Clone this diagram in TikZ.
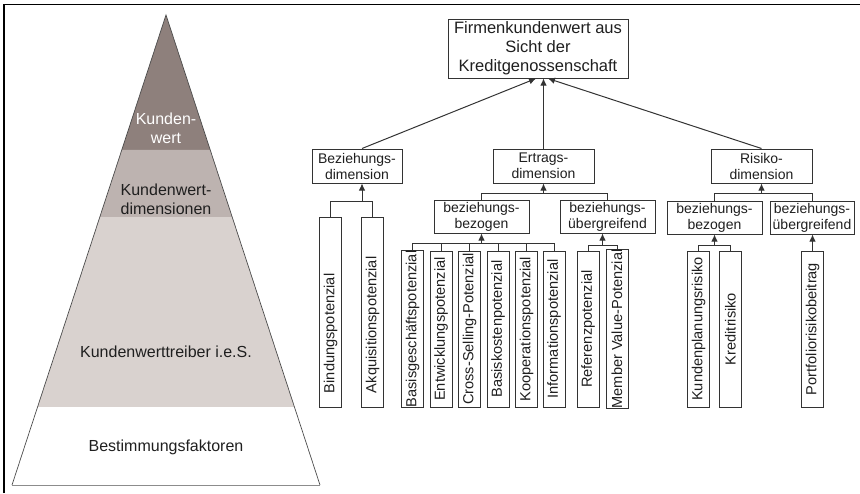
\documentclass[tikz,border=0pt]{standalone}
\usepackage{fontspec}
\setmainfont{Liberation Sans}
\usetikzlibrary{arrows.meta, positioning, calc}
\definecolor{dunkelgrau}{HTML}{333333}
\definecolor{stufeEins}{HTML}{8E807C}
\definecolor{stufeZwei}{HTML}{BDB3B0}
\definecolor{stufeDrei}{HTML}{D9D2CF}
\colorlet{colLinie}{dunkelgrau}
\colorlet{colText}{black!88}
\tikzset{
  kasten/.style={
    draw=colLinie, line width=1pt, align=center, inner sep=0pt,
    font=\fontsize{14}{16}\selectfont, text=colText, fill=white
  },
  kastenOben/.style={kasten, minimum width=180pt, minimum height=59pt,
    font=\fontsize{16.5}{19}\selectfont},
  kastenDim/.style={kasten, minimum width=101pt, minimum height=34pt},
  kastenSub/.style={kasten, minimum width=95pt, minimum height=33pt},
  blatt/.style={kasten, minimum width=22pt, minimum height=156pt,
    font=\fontsize{14.6}{16}\selectfont},
  linie/.style={colLinie, line width=1pt},
  pfeil/.style={linie, -{Latex[length=7pt, width=6.5pt]}},
  pyrText/.style={font=\fontsize{16}{19}\selectfont, align=center, text=colText},
}

\begin{document}
\begin{tikzpicture}[x=1pt, y=-1pt]
    \useasboundingbox (0,0) rectangle (860,493);
    \draw[line width=1.4pt] (4,493) -- (4,4.5) -- (860,4.5);

    % Pyramide
    \coordinate (spitze) at (166,15);
    \coordinate (basisL) at (12,485);
    \coordinate (basisR) at (320,485);
    \fill[stufeEins] (spitze) -- ($(spitze)!0.2872!(basisR)$) -- ($(spitze)!0.2872!(basisL)$) -- cycle;
    \fill[stufeZwei] ($(spitze)!0.2872!(basisL)$) -- ($(spitze)!0.2872!(basisR)$)
      -- ($(spitze)!0.4298!(basisR)$) -- ($(spitze)!0.4298!(basisL)$) -- cycle;
    \fill[stufeDrei] ($(spitze)!0.4298!(basisL)$) -- ($(spitze)!0.4298!(basisR)$)
      -- ($(spitze)!0.834!(basisR)$) -- ($(spitze)!0.834!(basisL)$) -- cycle;
    \draw[black!70, line width=0.7pt] (basisL) -- (spitze) -- (basisR);
    \draw[black!45, line width=0.9pt] (basisL) -- (basisR);
    \node[pyrText, text=white] (kw) at (166,128) {Kunden-\\wert};
    \node[pyrText] (kwd) at (166,199) {Kundenwert-\\dimensionen};
    \node[pyrText] (kwt) at (166,352) {Kundenwerttreiber i.e.S.};
    \node[pyrText] (bf) at (166,447) {Bestimmungsfaktoren};

    % Baum
    \node[kastenOben] (oben) at (538,48.5) {Firmenkundenwert aus\\Sicht der\\Kreditgenossenschaft};
    \node[kastenDim, minimum width=90pt] (bez) at (357,166) {Beziehungs-\\dimension};
    \node[kastenDim] (ert) at (543.5,166) {Ertrags-\\dimension};
    \node[kastenDim] (ris) at (761.5,166) {Risiko-\\dimension};
    \node[kastenSub] (ebez) at (481.5,216.5) {beziehungs-\\bezogen};
    \node[kastenSub] (eueb) at (607.5,216.5) {beziehungs-\\übergreifend};
    \node[kastenSub] (rbez) at (714.5,217.5) {beziehungs-\\bezogen};
    \node[kastenSub, minimum width=84pt] (rueb) at (812,217.5) {beziehungs-\\übergreifend};

    % Blaetter
    \node[blatt, minimum height=190pt] (bindung) at (330.5,312)
      {\rotatebox{90}{\makebox[162pt][l]{Bindungspotenzial}}};
    \node[blatt, minimum height=190pt] (akquise) at (372.5,312)
      {\rotatebox{90}{\makebox[162pt][l]{Akquisitionspotenzial}}};
    \node[blatt] (basis) at (412.5,329) {\rotatebox{90}{Basisgeschäftspotenzial}};
    \node[blatt, right=5.5pt of basis] (entw) {\rotatebox{90}{Entwicklungspotenzial}};
    \node[blatt, right=5.5pt of entw] (cross) {\rotatebox{90}{Cross-Selling-Potenzial}};
    \node[blatt, right=5.5pt of cross] (kosten) {\rotatebox{90}{Basiskostenpotenzial}};
    \node[blatt, right=5.5pt of kosten] (koop) {\rotatebox{90}{Kooperationspotenzial}};
    \node[blatt, right=4.5pt of koop] (info) {\rotatebox{90}{Informationspotenzial}};
    \node[blatt] (referenz) at (588,329) {\rotatebox{90}{Referenzpotenzial}};
    \node[blatt, right=6pt of referenz] (member) {\rotatebox{90}{Member Value-Potenzial}};
    \node[blatt] (planung) at (698.5,329) {\rotatebox{90}{Kundenplanungsrisiko}};
    \node[blatt, right=9pt of planung] (kredit) {\rotatebox{90}{Kreditrisiko}};
    \node[blatt] (portfolio) at (812.5,329) {\rotatebox{90}{Portfoliorisikobeitrag}};

    % Verbindungen
    \draw[pfeil] ([xshift=5pt]bez.north) -- ([xshift=-2pt]oben.south);
    \draw[pfeil] (ert.north) -- (ert.north |- oben.south);
    \draw[pfeil] (ris.north) -- ([xshift=10pt]oben.south);

    \coordinate (hBez) at (0,201);
    \draw[linie] (bindung.north) |- (hBez -| akquise.north) -- (akquise.north);
    \draw[pfeil] ([xshift=5pt]bez.south |- hBez) -- ([xshift=5pt]bez.south);

    \coordinate (hErt) at (0,193);
    \draw[linie] (ebez.north) |- (hErt -| eueb.north) -- (eueb.north);
    \draw[pfeil] (ert.south |- hErt) -- (ert.south);

    \coordinate (hRis) at (0,193);
    \draw[linie] (rbez.north) |- (hRis -| rueb.north) -- (rueb.north);
    \draw[pfeil] (ris.south |- hRis) -- (ris.south);

    \coordinate (hEbez) at (0,243);
    \draw[linie] (basis.north) |- (hEbez -| info.north) -- (info.north);
    \foreach \b in {entw, cross, kosten, koop}
      \draw[linie] (\b.north) -- (\b.north |- hEbez);
    \draw[pfeil] (ebez.south |- hEbez) -- (ebez.south);

    \coordinate (hEueb) at (0,245);
    \coordinate (mEueb) at ($(referenz.north |- hEueb)!0.5!(member.north |- hEueb)$);
    \draw[linie] (referenz.north) |- (hEueb -| member.north) -- (member.north);
    \draw[pfeil] (mEueb) -- (mEueb |- eueb.south);

    \coordinate (hRbez) at (0,245);
    \draw[linie] (planung.north) |- (hRbez -| kredit.north) -- (kredit.north);
    \draw[pfeil] (rbez.south |- hRbez) -- (rbez.south);

    \draw[pfeil] (portfolio.north) -- (portfolio.north |- rueb.south);
\end{tikzpicture}
\end{document}
